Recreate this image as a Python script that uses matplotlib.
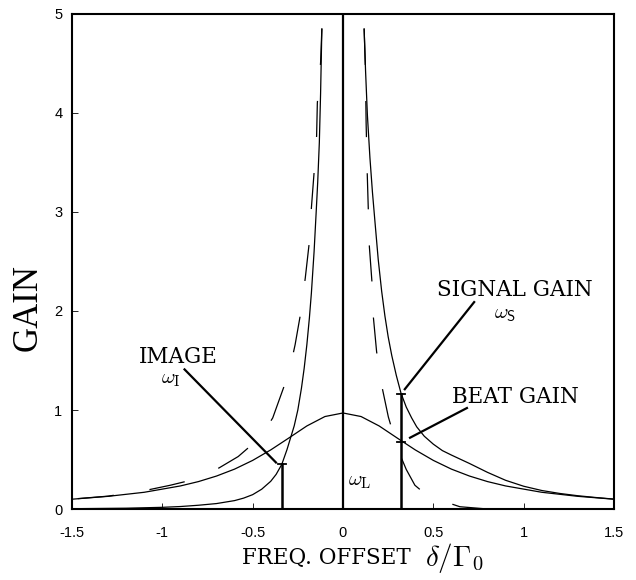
import matplotlib
matplotlib.use("Agg")
import matplotlib.pyplot as plt

plt.rcParams['mathtext.fontset'] = 'cm'
plt.rcParams['lines.scale_dashes'] = False

# ---- data ----
beat_x = [-1.5, -1.3, -1.1, -0.9, -0.8, -0.7, -0.6, -0.5, -0.4, -0.3, -0.2, -0.1, 0.0,
          0.1, 0.2, 0.3, 0.4, 0.5, 0.6, 0.7, 0.8, 0.9, 1.1, 1.3, 1.5]
beat_y = [0.099, 0.128, 0.169, 0.233, 0.277, 0.333, 0.403, 0.491, 0.597, 0.717, 0.839, 0.934, 0.97,
          0.934, 0.839, 0.717, 0.597, 0.491, 0.403, 0.333, 0.277, 0.233, 0.169, 0.128, 0.099]

signal_x = [0.117, 0.125, 0.135, 0.149, 0.163, 0.177, 0.195, 0.214, 0.232, 0.25, 0.27, 0.295,
            0.321, 0.35, 0.38, 0.408, 0.45, 0.5, 0.55, 0.6, 0.647, 0.7, 0.8, 0.9, 1.0,
            1.1, 1.2, 1.3, 1.4, 1.5]
signal_y = [4.85, 4.42, 3.98, 3.55, 3.2, 2.9, 2.52, 2.2, 1.95, 1.74, 1.55, 1.35,
            1.17, 1.03, 0.92, 0.83, 0.735, 0.655, 0.59, 0.545, 0.505, 0.46, 0.37, 0.29, 0.23,
            0.187, 0.157, 0.134, 0.116, 0.10]

image_x = [-1.5, -1.2, -1.0, -0.9, -0.8, -0.7, -0.6, -0.55, -0.5, -0.45, -0.4, -0.37, -0.339,
           -0.31, -0.29, -0.27, -0.25, -0.23, -0.215, -0.2, -0.186, -0.175, -0.16, -0.149,
           -0.14, -0.131, -0.124, -0.117]
image_y = [0.003, 0.008, 0.017, 0.025, 0.038, 0.055, 0.085, 0.11, 0.145, 0.2, 0.28, 0.35, 0.45,
           0.6, 0.72, 0.84, 1.0, 1.22, 1.42, 1.66, 1.93, 2.18, 2.6, 2.98,
           3.3, 3.7, 4.2, 4.85]

dash_right_x = [0.117, 0.124, 0.128, 0.134, 0.140, 0.146, 0.160, 0.168, 0.186, 0.214, 0.251,
                0.28, 0.312, 0.35, 0.398, 0.45, 0.537, 0.647, 0.8, 1.0]
dash_right_y = [4.85, 4.45, 3.9, 3.4, 3.03, 2.65, 2.30, 1.94, 1.59, 1.25, 0.93,
                0.75, 0.565, 0.40, 0.24, 0.16, 0.09, 0.023, 0.0, 0.0]

dash_left_x = [-0.117, -0.124, -0.142, -0.146, -0.160, -0.175, -0.188, -0.209, -0.238, -0.265,
               -0.29, -0.326, -0.389, -0.43, -0.472, -0.58, -0.686, -0.866, -0.956, -1.1, -1.3, -1.5]
dash_left_y = [4.85, 4.51, 4.10, 3.77, 3.40, 3.04, 2.67, 2.33, 1.94, 1.66,
               1.45, 1.24, 0.92, 0.80, 0.70, 0.53, 0.415, 0.28, 0.24, 0.185, 0.13, 0.10]

image_freq, image_gain = -0.339, 0.45
signal_freq, signal_gain, beat_gain = 0.321, 1.16, 0.68
laser_freq = 0.0

xticks = [-1.5, -1, -0.5, 0, 0.5, 1, 1.5]
xtick_labels = ['-1.5', '-1', '-0.5', '0', '0.5', '1', '1.5']
yticks = [0, 1, 2, 3, 4, 5]
ytick_labels = ['0', '1', '2', '3', '4', '5']

# ---- figure ----
fig = plt.figure(figsize=(6.36, 5.8), dpi=100)
ax = fig.add_axes([0.1132, 0.1224, 0.8522, 0.8535])
ax.set_xlim(-1.5, 1.5)
ax.set_ylim(0, 5)

thin = dict(color='black', lw=0.9)
ax.plot(beat_x, beat_y, **thin)
ax.plot(signal_x, signal_y, **thin)
ax.plot(image_x, image_y, **thin)
l1, = ax.plot(dash_right_x, dash_right_y, **thin)
l2, = ax.plot(dash_left_x, dash_left_y, **thin)
l1.set_dashes([26, 26])
l2.set_dashes([26, 26])

# laser line
ax.plot([laser_freq, laser_freq], [0, 5], color='black', lw=1.6)
# markers
cap = 0.022
ax.plot([image_freq, image_freq], [0, image_gain], color='black', lw=1.8)
ax.plot([image_freq - cap, image_freq + cap], [image_gain, image_gain], color='black', lw=1.3)
ax.plot([signal_freq, signal_freq], [0, signal_gain], color='black', lw=1.8)
ax.plot([signal_freq - cap, signal_freq + cap], [signal_gain, signal_gain], color='black', lw=1.3)
ax.plot([signal_freq - cap, signal_freq + cap], [beat_gain, beat_gain], color='black', lw=1.3)

# leader lines
lead = dict(color='black', lw=1.6)
ax.plot([0.726, 0.342], [2.09, 1.21], **lead)
ax.plot([0.686, 0.371], [1.02, 0.72], **lead)
ax.plot([-0.877, -0.371], [1.41, 0.47], **lead)

labfont = dict(family='DejaVu Serif', fontsize=15.5, color='black')
ax.text(0.95, 2.21, 'SIGNAL GAIN', ha='center', va='center', **labfont)
ax.text(0.956, 1.13, 'BEAT GAIN', ha='center', va='center', **labfont)
ax.text(-0.91, 1.535, 'IMAGE', ha='center', va='center', **labfont)
ax.text(0.897, 1.97, r'$\omega_{\mathsf{S}}$', ha='center', va='center', fontsize=15)
ax.text(-0.95, 1.31, r'$\omega_{\rm I}$', ha='center', va='center', fontsize=15)
ax.text(0.094, 0.28, r'$\omega_{\rm L}$', ha='center', va='center', fontsize=15)

ax.set_xticks(xticks)
ax.set_xticklabels(xtick_labels, family='Liberation Sans', fontsize=10.5)
ax.set_yticks(yticks)
ax.set_yticklabels(ytick_labels, family='Liberation Sans', fontsize=10.5)
ax.tick_params(direction='in', length=4, width=0.6, top=False, right=False)
ax.tick_params(axis='x', pad=12)
ax.tick_params(axis='y', pad=7)
for s in ax.spines.values():
    s.set_linewidth(1.5)

fig.text(0.045, 0.469, 'GAIN', rotation=90, ha='center', va='center',
         family='Liberation Serif', fontsize=25)
fig.text(326.5 / 636, 1 - 558 / 580, 'FREQ. OFFSET', ha='center', va='center',
         family='DejaVu Serif', fontsize=15.5)
fig.text(425 / 636, 1 - 566 / 580, r'$\delta/\Gamma_0$', ha='left', va='baseline',
         fontsize=21)

fig.savefig('out.png', dpi=100)
